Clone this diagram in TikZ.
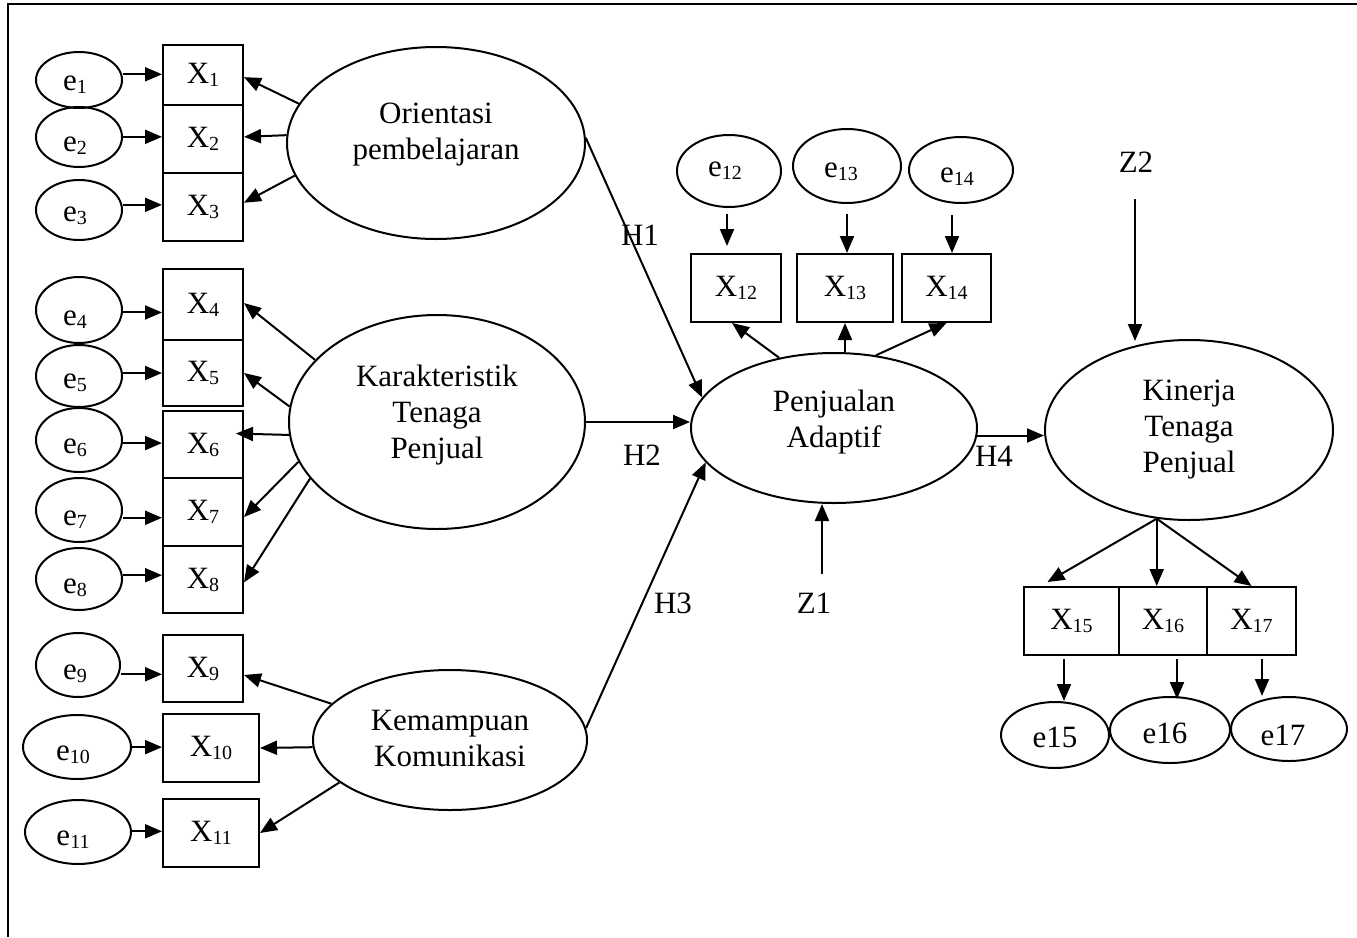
\documentclass[tikz,border=0pt]{standalone}
\usepackage{fontspec}
\setmainfont{Liberation Serif}
\usetikzlibrary{shapes.geometric,arrows.meta,calc}
\newcommand{\mainsz}{\fontsize{31}{36}\selectfont}
\newcommand{\mysub}[1]{\raisebox{-3pt}{\fontsize{20}{20}\selectfont #1}}
\begin{document}
\begin{tikzpicture}[x=1pt,y=-1pt,line width=2pt,
  lat/.style={draw,ellipse,inner sep=0pt},
  err/.style={draw,ellipse,inner sep=0pt},
  obs/.style={draw,rectangle,inner sep=0pt,font=\mainsz},
  sz/.style 2 args={minimum width=#1pt,minimum height=#2pt},
  ltxt/.style={align=center,font=\mainsz,inner sep=0pt},
  txt/.style={font=\mainsz,inner sep=0pt},
  arr/.style={-{Triangle[length=17pt,width=14pt]}}]
\useasboundingbox (0,0) rectangle (1357,937);
% frame (top and left sides)
\draw (1357,4) -- (8,4) -- (8,937);

% ---------- latent variables ----------
\node[lat,sz={298}{192},label={[ltxt,yshift=8pt]center:{Orientasi\\pembelajaran}}] (ori) at (436,143) {};
\node[lat,sz={296}{214},label={[ltxt,yshift=7pt]center:{Karakteristik\\Tenaga\\Penjual}}] (kar) at (437,422) {};
\node[lat,sz={274}{140},label={[ltxt,yshift=2pt]center:{Kemampuan\\Komunikasi}}] (kom) at (450,740) {};
\node[lat,sz={286}{150},label={[ltxt,yshift=6pt]center:{Penjualan\\Adaptif}}] (pen) at (834,428) {};
\node[lat,sz={288}{180},label={[ltxt]center:{Kinerja\\Tenaga\\Penjual}}] (kin) at (1189,430) {};

% ---------- indicators ----------
\node[obs,sz={80}{60}] (x1) at (203,75) {X\mysub{1}};
\node[obs,sz={80}{68}] (x2) at (203,139) {X\mysub{2}};
\node[obs,sz={80}{68}] (x3) at (203,207) {X\mysub{3}};
\node[obs,sz={80}{71}] (x4) at (203,304.5) {X\mysub{4}};
\node[obs,sz={80}{66}] (x5) at (203,373) {X\mysub{5}};
\node[obs,sz={80}{67}] (x6) at (203,444.5) {X\mysub{6}};
\node[obs,sz={80}{68}] (x7) at (203,512) {X\mysub{7}};
\node[obs,sz={80}{67}] (x8) at (203,579.5) {X\mysub{8}};
\node[obs,sz={80}{67}] (x9) at (203,668.5) {X\mysub{9}};
\node[obs,sz={96}{68}] (x10) at (211,748) {X\mysub{10}};
\node[obs,sz={96}{68}] (x11) at (211,833) {X\mysub{11}};
\node[obs,sz={90}{68}] (x12) at (736,288) {X\mysub{12}};
\node[obs,sz={96}{68}] (x13) at (845,288) {X\mysub{13}};
\node[obs,sz={89}{68}] (x14) at (946.5,288) {X\mysub{14}};
\node[obs,sz={95}{68}] (x15) at (1071.5,621) {X\mysub{15}};
\node[obs,sz={88}{68}] (x16) at (1163,621) {X\mysub{16}};
\node[obs,sz={89}{68}] (x17) at (1251.5,621) {X\mysub{17}};

% ---------- error terms ----------
\node[err,sz={86}{56},label={[txt,xshift=-4pt,yshift=-5pt]center:e\mysub{1}}] (e1) at (79,80) {};
\node[err,sz={86}{60},label={[txt,xshift=-4pt,yshift=-9pt]center:e\mysub{2}}] (e2) at (79,137) {};
\node[err,sz={86}{60},label={[txt,xshift=-4pt,yshift=-6pt]center:e\mysub{3}}] (e3) at (79,210) {};
\node[err,sz={86}{66},label={[txt,xshift=-4pt,yshift=-10pt]center:e\mysub{4}}] (e4) at (79,310) {};
\node[err,sz={86}{62},label={[txt,xshift=-4pt,yshift=-7pt]center:e\mysub{5}}] (e5) at (79,376) {};
\node[err,sz={86}{64},label={[txt,xshift=-4pt,yshift=-8pt]center:e\mysub{6}}] (e6) at (79,440) {};
\node[err,sz={86}{64},label={[txt,xshift=-4pt,yshift=-10pt]center:e\mysub{7}}] (e7) at (79,510) {};
\node[err,sz={86}{62},label={[txt,xshift=-4pt,yshift=-9pt]center:e\mysub{8}}] (e8) at (79,579) {};
\node[err,sz={84}{64},label={[txt,xshift=-3pt,yshift=-9pt]center:e\mysub{9}}] (e9) at (78,665) {};
\node[err,sz={108}{64},label={[txt,xshift=-4pt,yshift=-8pt]center:e\mysub{10}}] (e10) at (77,747) {};
\node[err,sz={106}{64},label={[txt,xshift=-5pt,yshift=-8pt]center:e\mysub{11}}] (e11) at (78,832) {};
\node[err,sz={104}{72},label={[txt,xshift=-4pt]center:e\mysub{12}}] (e12) at (729,171) {};
\node[err,sz={108}{74},label={[txt,xshift=-6pt,yshift=-6pt]center:e\mysub{13}}] (e13) at (847,166) {};
\node[err,sz={104}{66},label={[txt,xshift=-4pt,yshift=-7pt]center:e\mysub{14}}] (e14) at (961,170) {};
\node[err,sz={108}{66},label={[txt,yshift=-2pt]center:e15}] (e15) at (1055,735) {};
\node[err,sz={120}{66},label={[txt,xshift=-5pt,yshift=-3pt]center:e16}] (e16) at (1170,730) {};
\node[err,sz={116}{64},label={[txt,xshift=-6pt,yshift=-6pt]center:e17}] (e17) at (1289,729) {};

% ---------- path labels and disturbances ----------
\node[txt] (h1) at (640,235) {H1};
\node[txt] (h2) at (642,455) {H2};
\node[txt] (h3) at (673,603) {H3};
\node[txt] (h4) at (994,456) {H4};
\node[txt] (z1) at (814,603) {Z1};
\node[txt] (z2) at (1136,162) {Z2};

% ---------- errors to indicators ----------
\draw[arr] (e1.east |- x1.179) -- (x1.179);
\draw[arr] (e2.east |- x2.177) -- (x2.177);
\draw[arr] (e3.east |- x3.177) -- (x3.177);
\draw[arr] (e4.east |- x4.191) -- (x4.191);
\draw[arr] (e5.east |- x5.180) -- (x5.180);
\draw[arr] (e6.east |- x6.178) -- (x6.178);
\draw[arr] (e7.east |- x7.188) -- (x7.188);
\draw[arr] (e8.east |- x8.174) -- (x8.174);
\draw[arr] (e9.east |- x9.188) -- (x9.188);
\draw[arr] (e10.east |- x10.179) -- (x10.179);
\draw[arr] (e11.east |- x11.178) -- (x11.178);
\coordinate (s12) at ($(e12.south)+(-2,6)$);
\coordinate (s13) at ($(e13.south)+(0,10)$);
\coordinate (t14) at ($(x14.north)+(5.5,0)$);
\draw[arr] (s12) -- ($(s12 |- x12.north)+(0,-7)$);
\draw[arr] (s13) -- (s13 |- x13.north);
\draw[arr] ($(t14 |- e14.south)+(0,11)$) -- (t14);

% ---------- loadings ----------
\draw[arr] (ori.164) -- (x1.357);
\draw[arr] (ori.177) -- (x2.3);
\draw[arr] (ori.193) -- (x3.6);
\draw[arr] (kar.153) -- (x4.2);
\draw[arr] (kar.174) -- (x5.east);
\draw[arr] (kar.185) -- ([xshift=-8pt]x6.15);
\draw[arr] (kar.196) -- (x7.353);
\draw[arr] (kar.204) -- (x8.356);
\draw[arr] (kom.163) -- (x9.351);
\draw[arr] (kom.183) -- (x10.east);
\draw[arr] (kom.201) -- (x11.east);
\draw[arr] (pen.128) -- ($(x12.south)+(-4,0)$);
\draw[arr] (x13.south |- pen.north) -- (x13.south);
\draw[arr] (pen.60) -- (x14.south);
\draw[arr] (kin.250) -- ($(x15.north)+(-24,-4)$);
\draw[arr] (kin.250) -- (kin.250 |- x16.north);
\draw[arr] (kin.250) -- (x17.north);

% ---------- indicators to errors ----------
\coordinate (s15) at ($(x15.south)+(-7.5,3)$);
\coordinate (s16) at ($(x16.south)+(14,3)$);
\coordinate (s17) at ($(x17.south)+(10.5,3)$);
\draw[arr] (s15) -- (s15 |- e15.north);
\draw[arr] (s16) -- ($(s16 |- e16.north)+(0,3)$);
\draw[arr] (s17) -- (s17 |- e17.north);

% ---------- structural paths ----------
\draw[arr] (ori.2) -- (pen.167);
\draw[arr] (kar.east) -- (kar.east -| pen.west);
\draw[arr] (kom.5) -- (pen.195);
\draw[arr] (pen.357) -- (pen.357 -| kin.west);

% ---------- disturbances ----------
\coordinate (s1) at ($(z1.north)+(8,-18)$);
\draw[arr] (s1) -- (s1 |- pen.south);
\draw[arr] ($(z2.south)+(-1,26)$) -- ($(kin.north)+(-54,2)$);
\end{tikzpicture}
\end{document}
